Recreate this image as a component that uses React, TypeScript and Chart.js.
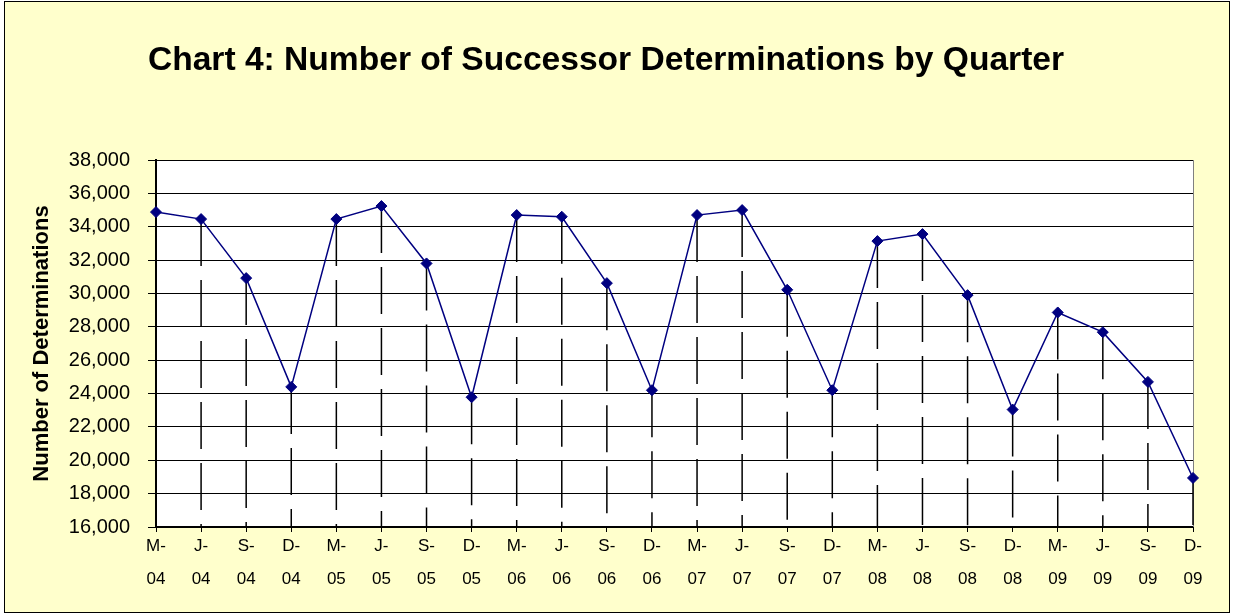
import React, { useEffect, useRef } from 'react';
import { Chart, registerables } from 'chart.js';

Chart.register(...registerables);

const quarters = [
  'M-04', 'J-04', 'S-04', 'D-04',
  'M-05', 'J-05', 'S-05', 'D-05',
  'M-06', 'J-06', 'S-06', 'D-06',
  'M-07', 'J-07', 'S-07', 'D-07',
  'M-08', 'J-08', 'S-08', 'D-08',
  'M-09', 'J-09', 'S-09', 'D-09',
];

const determinations = [
  34880, 34460, 30920, 24400,
  34460, 35240, 31800, 23780,
  34700, 34600, 30620, 24200,
  34700, 35000, 30220, 24200,
  33140, 33560, 29900, 23040,
  28860, 27680, 24700, 18940,
];

const yMin = 16000;
const yMax = 38000;
const yStep = 2000;

const titleText = 'Chart 4: Number of Successor Determinations by Quarter';
const yAxisTitle = 'Number of Determinations';

const FONT = "Arial, 'Liberation Sans', Helvetica, sans-serif";

const plotBackground = {
  id: 'plotBackground',
  beforeDraw(chart: any) {
    const { ctx, chartArea: a } = chart;
    ctx.save();
    ctx.fillStyle = '#ffffff';
    ctx.fillRect(a.left, a.top, a.right - a.left, a.bottom - a.top);
    ctx.restore();
  },
};

const dropLines = {
  id: 'dropLines',
  beforeDatasetsDraw(chart: any) {
    const { ctx, chartArea: a } = chart;
    ctx.save();
    ctx.strokeStyle = '#808080';
    ctx.lineWidth = 1;
    ctx.beginPath();
    ctx.moveTo(a.right + 0.5, a.top);
    ctx.lineTo(a.right + 0.5, a.bottom);
    ctx.stroke();
    const meta = chart.getDatasetMeta(0);
    ctx.strokeStyle = '#000000';
    ctx.lineWidth = 1.5;
    ctx.setLineDash([47, 14]);
    meta.data.forEach((pt: any) => {
      ctx.beginPath();
      ctx.moveTo(pt.x, pt.y);
      ctx.lineTo(pt.x, a.bottom);
      ctx.stroke();
    });
    ctx.restore();
  },
};

export default function App() {
  const canvasRef = useRef<HTMLCanvasElement | null>(null);

  useEffect(() => {
    if (!canvasRef.current) return;
    const chart = new Chart(canvasRef.current, {
      type: 'line',
      data: {
        labels: quarters.map((q) => [q.slice(0, 2), q.slice(2)]),
        datasets: [
          {
            data: determinations,
            borderColor: '#000080',
            backgroundColor: '#000080',
            borderWidth: 1.5,
            pointStyle: 'rectRot',
            pointRadius: 5.5,
            pointBorderWidth: 1,
            pointBackgroundColor: '#000080',
            pointBorderColor: '#000080',
            tension: 0,
            clip: false as any,
          },
        ],
      },
      options: {
        responsive: false,
        animation: false,
        layout: { padding: { left: 14, right: 36, top: 0, bottom: 0 } },
        plugins: {
          legend: { display: false },
          tooltip: { enabled: false },
          title: {
            display: true,
            text: titleText,
            color: '#000',
            font: { family: FONT, size: 33.6, weight: 'bold', lineHeight: 1.2 },
            padding: { top: 39, bottom: 78.7 },
          },
        },
        scales: {
          x: {
            type: 'category',
            offset: false,
            grid: {
              display: true,
              drawOnChartArea: false,
              drawTicks: true,
              tickLength: 5,
              color: '#000',
              lineWidth: 1,
            },
            border: { display: true, color: '#000', width: 2 },
            ticks: {
              color: '#000',
              font: { family: FONT, size: 17, lineHeight: 1.94 },
              padding: -2,
              maxRotation: 0,
              minRotation: 0,
              autoSkip: false,
            },
            afterFit: (s: any) => {
              s.height = 85;
            },
          },
          y: {
            min: yMin,
            max: yMax,
            ticks: {
              stepSize: yStep,
              color: '#000',
              font: { family: FONT, size: 20 },
              padding: 18,
              callback: (v: any) => Number(v).toLocaleString('en-US'),
            },
            grid: {
              color: '#000',
              lineWidth: 1,
              tickLength: 8,
              drawTicks: true,
            },
            border: { display: true, color: '#000', width: 2 },
            title: {
              display: true,
              text: yAxisTitle,
              color: '#000',
              font: { family: FONT, size: 22, weight: 'bold', lineHeight: 1.2 },
              padding: { top: 10, bottom: 0 },
            },
            afterFit: (s: any) => {
              s.width = 137;
            },
          },
        },
      } as any,
      plugins: [plotBackground, dropLines],
    });
    return () => chart.destroy();
  }, []);

  return (
    <div
      style={{
        position: 'absolute',
        left: 4,
        top: 1,
        width: 1226,
        height: 612,
        boxSizing: 'border-box',
        border: '1px solid #000',
        background: '#FFFFCC',
      }}
    >
      <canvas ref={canvasRef} width={1224} height={610} style={{ display: 'block' }} />
    </div>
  );
}
